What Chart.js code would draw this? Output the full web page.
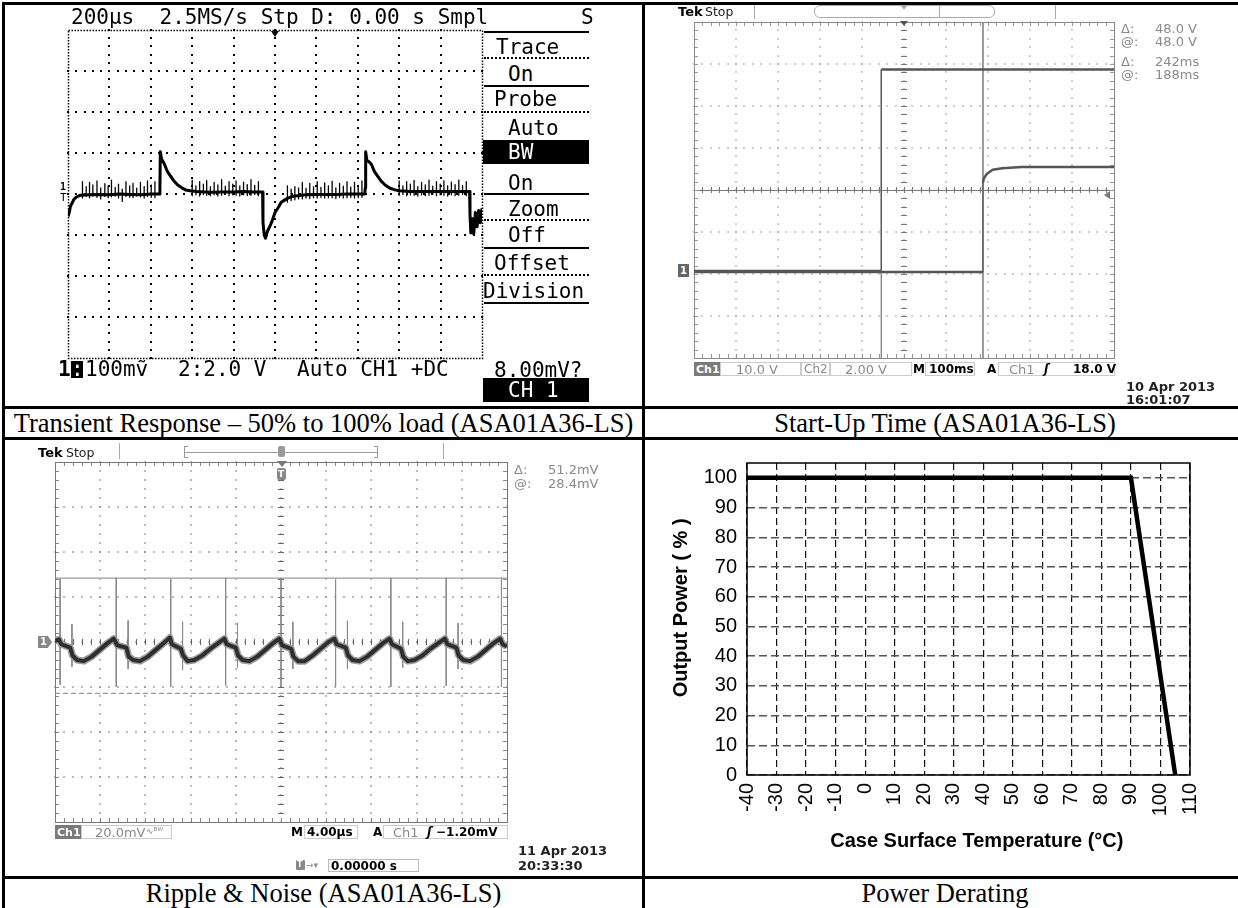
<!DOCTYPE html>
<html>
<head>
<meta charset="utf-8">
<title>ASA01A36-LS characteristics</title>
<script src="https://cdn.jsdelivr.net/npm/chart.js@4.4.1/dist/chart.umd.min.js"></script>
<style>
  html, body { margin: 0; background: #fff; }
  #page { position: relative; width: 1238px; height: 908px; overflow: hidden; background: #fff; }
  .ln { position: absolute; background: #000; }
  .cap { position: absolute; height: 28px; line-height: 28px; text-align: center; white-space: nowrap;
         font-family: "Liberation Serif", "Times New Roman", serif; font-size: 26.5px; color: #000; }
  .t { position: absolute; white-space: pre; line-height: 1; transform: translateY(-50%); }
  .mono { font-family: "DejaVu Sans Mono", monospace; font-size: 21px; color: #000; }
  .tek { font-family: "DejaVu Sans", sans-serif; font-size: 13px; color: #8a8a8a; }
  .tek.b { font-weight: bold; font-size: 12px; color: #000; }
  .tek.d { font-weight: bold; color: #222; }
  .r { position: absolute; box-sizing: border-box; }
  canvas { position: absolute; }
</style>
</head>
<body>
<div id="page">
  <!-- table rules -->
  <div class="ln" style="left:2px;top:2px;width:1236px;height:3px"></div>
  <div class="ln" style="left:2px;top:2px;width:3px;height:906px"></div>
  <div class="ln" style="left:642px;top:2px;width:3px;height:906px"></div>
  <div class="ln" style="left:2px;top:406px;width:1236px;height:3px"></div>
  <div class="ln" style="left:2px;top:437px;width:1236px;height:3px"></div>
  <div class="ln" style="left:2px;top:876px;width:1236px;height:3px"></div>

  <div class="cap" style="left:5px;width:637px;top:409px">Transient Response – 50% to 100% load (ASA01A36-LS)</div>
  <div class="cap" style="left:645px;width:600px;top:409px">Start-Up Time (ASA01A36-LS)</div>
  <div class="cap" style="left:5px;width:637px;top:879px;height:29px">Ripple &amp; Noise (ASA01A36-LS)</div>
  <div class="cap" style="left:645px;width:600px;top:879px;height:29px">Power Derating</div>

  <canvas id="cTrans" width="426" height="340" style="left:62px;top:24px"></canvas>
  <canvas id="cStart" width="432" height="348" style="left:688px;top:16px"></canvas>
  <canvas id="cRipple" width="464" height="372" style="left:49px;top:456px"></canvas>
  <canvas id="cDerate" width="595" height="436" style="left:643px;top:440px"></canvas>

  <!-- transient response screen -->
  <div class="t mono" style="left:71px;top:17px">200µs  2.5MS/s Stp D: 0.00 s Smpl</div>
  <div class="t mono" style="left:581px;top:17px">S</div>
  <div class="r" style="left:271px;top:31px;border-left:4px solid transparent;border-right:4px solid transparent;border-top:6px solid #000"></div>
  <div class="t mono" style="left:60px;top:187px;font-size:10px;font-weight:bold">1</div>
  <div class="t mono" style="left:60px;top:197px;font-size:11px">T</div>
  <div class="ln" style="left:484px;top:31px;width:105px;height:2px"></div>
  <div class="t mono" style="left:496px;top:47px">Trace</div>
  <div class="r" style="left:484px;top:57px;width:105px;border-top:2px dotted #000"></div>
  <div class="t mono" style="left:508px;top:74px">On</div>
  <div class="ln" style="left:484px;top:85px;width:105px;height:2px"></div>
  <div class="t mono" style="left:494px;top:99px">Probe</div>
  <div class="r" style="left:484px;top:111px;width:105px;border-top:2px dotted #000"></div>
  <div class="t mono" style="left:508px;top:128px">Auto</div>
  <div class="ln" style="left:483px;top:140px;width:106px;height:24px"></div>
  <div class="t mono" style="left:508px;top:152px;color:#fff">BW</div>
  <div class="t mono" style="left:508px;top:183px">On</div>
  <div class="ln" style="left:484px;top:193px;width:105px;height:2px"></div>
  <div class="t mono" style="left:508px;top:209px">Zoom</div>
  <div class="r" style="left:484px;top:219px;width:105px;border-top:2px dotted #000"></div>
  <div class="t mono" style="left:508px;top:235px">Off</div>
  <div class="ln" style="left:484px;top:247px;width:105px;height:2px"></div>
  <div class="t mono" style="left:494px;top:263px">Offset</div>
  <div class="r" style="left:484px;top:274px;width:105px;border-top:2px dotted #000"></div>
  <div class="t mono" style="left:483px;top:291px">Division</div>
  <div class="ln" style="left:484px;top:302px;width:105px;height:2px"></div>
  <div class="t mono" style="left:494px;top:370px">8.00mV?</div>
  <div class="ln" style="left:483px;top:378px;width:106px;height:24px"></div>
  <div class="t mono" style="left:508px;top:390px;color:#fff">CH 1</div>
  <div class="t mono" style="left:58px;top:369px;font-weight:bold">1</div>
  <div class="ln" style="left:71px;top:361px;width:12px;height:17px"></div>
  <div class="t mono" style="left:71px;top:369px;color:#fff">:</div>
  <div class="t mono" style="left:85px;top:369px">100mṽ</div>
  <div class="t mono" style="left:178px;top:369px">2:2.0 V</div>
  <div class="t mono" style="left:297px;top:369px">Auto CH1 +DC</div>

  <!-- start-up screen -->
  <div class="t tek" style="left:678px;top:11px;color:#000;font-weight:bold">Tek</div>
  <div class="t tek" style="left:705px;top:12px;color:#222;font-size:12.5px">Stop</div>
  <div class="r" style="left:754px;top:5px;width:1px;height:14px;background:#aaa"></div>
  <div class="r" style="left:814px;top:5px;width:181px;height:13px;border:1px solid #aaa;border-radius:6px"></div>
  <div class="r" style="left:939px;top:5px;width:1px;height:13px;background:#aaa"></div>
  <div class="r" style="left:1055px;top:5px;width:1px;height:14px;background:#aaa"></div>
  <div class="r" style="left:901px;top:6px;border-left:3px solid transparent;border-right:3px solid transparent;border-top:4px solid #aaa"></div>
  <div class="r" style="left:900px;top:21px;border-left:4px solid transparent;border-right:4px solid transparent;border-top:5px solid #555"></div>
  <div class="r" style="left:678px;top:264px;width:11px;height:13px;background:#666"></div>
  <div class="t tek" style="left:680px;top:271px;color:#fff;font-weight:bold;font-size:10px">1</div>
  <div class="r" style="left:1104px;top:191px;border-top:4px solid transparent;border-bottom:4px solid transparent;border-right:6px solid #777"></div>
  <div class="t tek" style="left:1121px;top:28px">Δ:</div>
  <div class="t tek" style="left:1155px;top:28px">48.0 V</div>
  <div class="t tek" style="left:1121px;top:41px">@:</div>
  <div class="t tek" style="left:1155px;top:41px">48.0 V</div>
  <div class="t tek" style="left:1121px;top:61px">Δ:</div>
  <div class="t tek" style="left:1155px;top:61px">242ms</div>
  <div class="t tek" style="left:1121px;top:74px">@:</div>
  <div class="t tek" style="left:1155px;top:74px">188ms</div>
  <div class="r" style="left:694px;top:362px;width:26px;height:14px;background:#7a7a7a"></div>
  <div class="t tek" style="left:696px;top:369px;color:#fff;font-weight:bold;font-size:11px">Ch1</div>
  <div class="r" style="left:720px;top:362px;width:81px;height:14px;border:1px solid #ccc"></div>
  <div class="t tek" style="left:736px;top:369px">10.0 V</div>
  <div class="r" style="left:801px;top:362px;width:29px;height:14px;border:1px solid #ccc"></div>
  <div class="t tek" style="left:804px;top:369px;font-size:12px">Ch2</div>
  <div class="r" style="left:830px;top:362px;width:82px;height:14px;border:1px solid #ccc"></div>
  <div class="t tek" style="left:845px;top:369px">2.00 V</div>
  <div class="t tek b" style="left:913px;top:369px">M</div>
  <div class="r" style="left:925px;top:362px;width:50px;height:14px;border:1px solid #ccc"></div>
  <div class="t tek b" style="left:929px;top:369px">100ms</div>
  <div class="t tek b" style="left:987px;top:369px">A</div>
  <div class="r" style="left:998px;top:362px;width:117px;height:14px;border:1px solid #ccc"></div>
  <div class="t tek" style="left:1009px;top:369px">Ch1</div>
  <div class="t tek b" style="left:1044px;top:369px;font-style:italic">ʃ</div>
  <div class="t tek b" style="left:1073px;top:369px">18.0 V</div>
  <div class="t tek d" style="left:1126px;top:386px">10 Apr 2013</div>
  <div class="t tek d" style="left:1126px;top:399px">16:01:07</div>

  <!-- ripple screen -->
  <div class="t tek" style="left:38px;top:452px;color:#000;font-weight:bold">Tek</div>
  <div class="t tek" style="left:66px;top:453px;color:#222;font-size:12.5px">Stop</div>
  <div class="r" style="left:119px;top:443px;width:1px;height:16px;background:#aaa"></div>
  <div class="r" style="left:443px;top:443px;width:1px;height:16px;background:#aaa"></div>
  <div class="r" style="left:184px;top:446px;width:4px;height:12px;border:1px solid #999;border-right:none"></div>
  <div class="r" style="left:374px;top:446px;width:4px;height:12px;border:1px solid #999;border-left:none"></div>
  <div class="r" style="left:185px;top:452px;width:192px;height:1px;background:#999"></div>
  <div class="r" style="left:278px;top:446px;width:7px;height:11px;background:#999;border-radius:2px"></div>
  <div class="r" style="left:277px;top:461px;border-left:5px solid transparent;border-right:5px solid transparent;border-top:6px solid #777"></div>
  <div class="r" style="left:277px;top:468px;width:9px;height:12px;background:#888;border-radius:2px"></div>
  <div class="t tek" style="left:278px;top:474px;color:#fff;font-weight:bold;font-size:9px">T</div>
  <div class="r" style="left:38px;top:636px;width:14px;height:12px;background:#888;clip-path:polygon(0 0,70% 0,100% 50%,70% 100%,0 100%)"></div>
  <div class="t tek" style="left:40px;top:642px;color:#fff;font-weight:bold;font-size:10px">1</div>
  <div class="t tek" style="left:514px;top:469px">Δ:</div>
  <div class="t tek" style="left:548px;top:469px">51.2mV</div>
  <div class="t tek" style="left:514px;top:483px">@:</div>
  <div class="t tek" style="left:548px;top:483px">28.4mV</div>
  <div class="r" style="left:55px;top:825px;width:26px;height:14px;background:#7a7a7a"></div>
  <div class="t tek" style="left:57px;top:832px;color:#fff;font-weight:bold;font-size:11px">Ch1</div>
  <div class="r" style="left:81px;top:825px;width:91px;height:14px;border:1px solid #ccc"></div>
  <div class="t tek" style="left:95px;top:832px">20.0mV</div>
  <div class="t tek" style="left:146px;top:831px;font-size:9px">∿ᴮᵂ</div>
  <div class="t tek b" style="left:291px;top:832px">M</div>
  <div class="r" style="left:304px;top:825px;width:54px;height:14px;border:1px solid #ccc"></div>
  <div class="t tek b" style="left:307px;top:832px">4.00µs</div>
  <div class="t tek b" style="left:373px;top:832px">A</div>
  <div class="r" style="left:383px;top:825px;width:125px;height:14px;border:1px solid #ccc"></div>
  <div class="t tek" style="left:393px;top:832px">Ch1</div>
  <div class="t tek b" style="left:427px;top:832px;font-style:italic">ʃ</div>
  <div class="t tek b" style="left:436px;top:832px">−1.20mV</div>
  <div class="t tek d" style="left:518px;top:850px">11 Apr 2013</div>
  <div class="t tek d" style="left:518px;top:865px">20:33:30</div>
  <div class="r" style="left:296px;top:860px;width:9px;height:10px;background:#888;border-radius:1px"></div>
  <div class="t tek" style="left:297px;top:865px;color:#fff;font-size:8px;font-weight:bold">T</div>
  <div class="t tek" style="left:306px;top:865px;font-size:9px">→▾</div>
  <div class="r" style="left:328px;top:859px;width:91px;height:13px;border:1px solid #bbb"></div>
  <div class="t tek b" style="left:331px;top:866px">0.00000 s</div>
</div>

<script>
// Transient response: time in µs (200 µs/div), output deviation in mV (100 mV/div)
const transientTrace = [
  [-1000, -55], [-994, -45], [-988, -30], [-980, -22], [-970, -12], [-960, -8], [-950, -5], [-940, -3],
  [-900, -2], [-850, -1], [-800, -2], [-750, 0], [-700, -1], [-650, -2], [-600, 0], [-560, 0],
  [-556, 10], [-554, 103], [-548, 85], [-536, 75], [-520, 55], [-508, 46], [-490, 33], [-470, 22], [-450, 15],
  [-432, 10], [-410, 8], [-380, 6], [-340, 5], [-300, 4], [-250, 5], [-200, 5], [-150, 6], [-100, 5], [-60, 5],
  [-58, -70], [-52, -100], [-46, -108], [-36, -90], [-24, -78], [-12, -63], [0, -45], [18, -31], [30, -20],
  [46, -15], [62, -10], [84, -6], [110, -4], [150, -2], [200, -1], [250, -1], [300, -1], [350, 0], [400, 0], [434, 0],
  [436, 15], [438, 103], [444, 82], [456, 78], [466, 72], [480, 55], [494, 45], [512, 32], [532, 22], [556, 14],
  [580, 10], [600, 8], [650, 6], [700, 6], [750, 6], [800, 6], [850, 6], [900, 6], [940, 6],
  [942, -50], [946, -95], [952, -60], [960, -98], [968, -45], [976, -80], [984, -40], [992, -70], [1000, -35]
];
// switching noise riding on the transient trace
const noiseUs = [
  -930, -912, -896, -880, -860, -842, -822, -806, -790, -772, -756, -738, -720, -702, -686, -668, -650, -632, -616, -598, -580,
  -400, -382, -364, -346, -330, -312, -294, -276, -258, -240, -222, -204, -188, -170, -152, -134, -116, -98, -80,
  60, 78, 96, 114, 132, 150, 168, 186, 204, 222, 240, 258, 276, 294, 312, 330, 348, 366, 384, 402, 420,
  600, 618, 636, 654, 672, 690, 708, 726, 744, 762, 780, 798, 816, 834, 852, 870, 888, 906, 924
];
const noiseHighMv = [
  30, 18, 28, 22, 32, 15, 25, 20, 34, 16, 24, 12, 30, 20, 26, 14, 28, 18, 32, 22, 30,
  34, 20, 30, 24, 33, 18, 28, 22, 35, 19, 30, 24, 32, 20, 29, 23, 35, 21, 30,
  20, 12, 18, 15, 28, 14, 26, 18, 30, 16, 27, 20, 31, 15, 26, 19, 30, 17, 28, 21, 32,
  32, 20, 30, 24, 33, 18, 28, 22, 34, 19, 30, 24, 32, 20, 29, 23, 34, 21, 30
];
const noiseLowMv = [
  -10, -6, -9, -5, -8, -12, -6, -9, -7, -5, -10, -18, -6, -8, -9, -5, -7, -10, -6, -8, -9,
  -4, -2, -5, -1, -3, -4, -2, -5, -3, -1, -4, -2, -3, -5, -2, -4, -3, -1, -4,
  -20, -16, -14, -12, -12, -10, -11, -9, -10, -8, -10, -9, -9, -11, -8, -10, -9, -8, -10, -9, -8,
  -3, -1, -4, -2, -3, -5, -2, -4, -3, -1, -4, -2, -3, -5, -2, -4, -3, -1, -4
];

// Start-up: time in ms (100 ms/div), Ch1 input in V (10 V/div), Ch2 output in V (2 V/div)
const ch1Ms = [-500, -54, -54, 500];
const ch1V = [0, 0, 48, 48];
const ch2Ms = [-500, 188, 188, 190, 197, 211, 234, 280, 500];
const ch2V = [0, 0, 4.24, 4.45, 4.66, 4.86, 4.94, 5.0, 5.0];
const cursorMs = [-54, 188];
const cursorTopDiv = [2.87, 4];
const cursorBottomDiv = [-4, -4];

// Ripple & noise: time in µs (4 µs/div), ripple in mV (20 mV/div)
const rippleTrace = [
  [-20.0, 0.5], [-19.65, 1.2],
  [-19.45, -1], [-18.65, -2.5], [-18.45, -6], [-18.05, -8], [-17.45, -8.5], [-16.75, -6.5], [-16.05, -3.5], [-15.35, -0.5], [-14.80, 1.5],
  [-14.48, -1.5], [-13.68, -2.5], [-13.48, -6.5], [-13.08, -8], [-12.48, -8.5], [-11.78, -6.5], [-11.08, -3.5], [-10.38, -0.5], [-9.83, 2],
  [-9.66, -1], [-8.86, -3], [-8.66, -6], [-8.26, -8.5], [-7.66, -8], [-6.96, -6], [-6.26, -3], [-5.56, -0.5], [-5.01, 1.5],
  [-4.80, -1], [-4.00, -2.5], [-3.80, -6], [-3.40, -8], [-2.80, -8.5], [-2.10, -6.5], [-1.40, -3.5], [-0.70, -0.5], [-0.15, 1.5],
  [0.10, -1.5], [0.90, -3], [1.10, -6.5], [1.50, -8.5], [2.10, -8.5], [2.80, -6], [3.50, -3], [4.20, 0], [4.72, 1.5],
  [4.93, -1], [5.73, -2.5], [5.93, -6], [6.33, -8], [6.93, -8.5], [7.63, -6.5], [8.33, -3.5], [9.03, -0.5], [9.61, 1.5],
  [9.82, -1], [10.62, -3], [10.82, -6.5], [11.22, -8.5], [11.82, -8], [12.52, -6], [13.22, -3], [13.92, -0.5], [14.51, 1.5],
  [14.72, -1], [15.52, -2.5], [15.72, -6], [16.12, -8], [16.72, -8.5], [17.42, -6.5], [18.12, -3.5], [18.82, -0.5], [19.40, 1.5],
  [19.61, -1], [20.0, -2]
];
const spikeUs = [-19.55, -14.58, -9.76, -4.90, 0.00, 4.83, 9.72, 14.62, 19.51];
const spikeHighMv = [28, 28.5, 28, 28.5, 28.5, 28, 28.5, 28.5, 28.5];
const spikeLowMv = [-19, -20, -20, -19.5, -20, -20, -20, -19.5, -20];
const subSpikeUs = [-18.50, -13.53, -8.71, -3.85, 1.05, 5.88, 10.77, 15.67];
const subSpikeHighMv = [8, 9.5, 9, 8.5, 9, 9.5, 9, 8.5];
const subSpikeLowMv = [-11, -12, -12.5, -11.5, -12, -12, -11.5, -12];
const cursorMv = [28.4, -22.8];

// Power derating
const tempC = [-40, 90, 105];
const powerPct = [100, 100, 0];
const tempTicks = [-40, -30, -20, -10, 0, 10, 20, 30, 40, 50, 60, 70, 80, 90, 100, 110];
const powerTicks = [0, 10, 20, 30, 40, 50, 60, 70, 80, 90, 100];

Chart.defaults.font.family = '"Liberation Sans", Arial, sans-serif';

const pts = list => list.map(([x, y]) => ({ x, y }));
const zip = (xs, ys) => xs.map((x, i) => ({ x, y: ys[i] }));
const bars = (xs, hi, lo) => xs.flatMap((x, i) => [{ x, y: hi[i] }, { x, y: lo[i] }, { x, y: null }]);

// scope graticule: dots every 1/5 division, frame and tick marks
const scopeGrid = {
  id: 'scopeGrid',
  beforeDatasetsDraw(chart, args, o) {
    const ctx = chart.ctx;
    const xs = chart.scales.x;
    const ys = chart.scales[o.yAxis];
    const px = d => Math.round(xs.getPixelForValue(xs.min + (xs.max - xs.min) * d / o.xDivs));
    const py = d => Math.round(ys.getPixelForValue(ys.min + (ys.max - ys.min) * d / o.yDivs));
    const L = px(0), R = px(o.xDivs), B = py(0), T = py(o.yDivs);
    const cx = px(o.xDivs / 2), cy = py(o.yDivs / 2);
    const s = o.dotSize;
    const seg = (x1, y1, x2, y2) => { ctx.moveTo(x1, y1); ctx.lineTo(x2, y2); };
    ctx.save();
    ctx.fillStyle = o.dotColor;
    for (let i = 1; i < o.xDivs; i++) {
      for (let k = 0; k <= o.yDivs * 5; k++) ctx.fillRect(px(i) - s / 2, py(k / 5) - s / 2, s, s);
    }
    for (let j = 1; j < o.yDivs; j++) {
      for (let k = 0; k <= o.xDivs * 5; k++) ctx.fillRect(px(k / 5) - s / 2, py(j) - s / 2, s, s);
    }
    ctx.lineWidth = 1;
    if (o.centerTicks) {
      const c = o.centerTicks;
      ctx.strokeStyle = o.centerColor;
      ctx.beginPath();
      for (let k = 1; k < o.xDivs * 5; k++) seg(px(k / 5) + 0.5, cy - c, px(k / 5) + 0.5, cy + c);
      for (let k = 1; k < o.yDivs * 5; k++) seg(cx - c, py(k / 5) + 0.5, cx + c, py(k / 5) + 0.5);
      if (o.solidCenterY) seg(L, cy + 0.5, R, cy + 0.5);
      ctx.stroke();
    }
    if (o.edgeTicks) {
      const e = o.edgeTicks;
      ctx.strokeStyle = o.tickColor;
      ctx.beginPath();
      for (let k = 1; k < o.xDivs * 5; k++) {
        const x = px(k / 5) + 0.5;
        seg(x, T, x, T + e);
        seg(x, B - e, x, B);
      }
      for (let k = 1; k < o.yDivs * 5; k++) {
        const y = py(k / 5) + 0.5;
        seg(L, y, L + e, y);
        seg(R - e, y, R, y);
      }
      ctx.stroke();
    }
    ctx.strokeStyle = o.frameColor;
    ctx.lineWidth = o.frame === 'dotted' ? 1.5 : 1;
    ctx.setLineDash(o.frame === 'dotted' ? [1.5, 1.5] : []);
    ctx.strokeRect(L + 0.5, T + 0.5, R - L, B - T);
    ctx.restore();
  }
};

function scope(id, datasets, scales, grid) {
  return new Chart(document.getElementById(id), {
    type: 'line',
    data: { datasets },
    options: {
      responsive: false,
      animation: false,
      events: [],
      layout: { padding: 6 },
      elements: { point: { radius: 0 }, line: { tension: 0, borderJoinStyle: 'round' } },
      plugins: { legend: { display: false }, tooltip: { enabled: false }, scopeGrid: grid },
      scales
    },
    plugins: [scopeGrid]
  });
}

const tekGrid = { xDivs: 10, yDivs: 8, dotSize: 1.5, frame: 'solid', edgeTicks: 4, centerTicks: 3 };
const thinEdges = { borderWidth: c => (c.p0.parsed.x === c.p1.parsed.x ? 1.2 : undefined) };

scope('cTrans', [
  { data: pts(transientTrace), borderColor: '#000', borderWidth: 3 },
  { data: bars(noiseUs, noiseHighMv, noiseLowMv), borderColor: '#000', borderWidth: 1.3 }
], {
  x: { type: 'linear', display: false, min: -1000, max: 1000 },
  y: { display: false, min: -400, max: 400 }
}, { yAxis: 'y', xDivs: 10, yDivs: 8, dotColor: '#000', dotSize: 2, frame: 'dotted', frameColor: '#000' });

scope('cStart', [
  { data: zip(ch2Ms, ch2V), yAxisID: 'y2', borderColor: '#555', borderWidth: 2.5, segment: thinEdges },
  { data: zip(ch1Ms, ch1V), yAxisID: 'y1', borderColor: '#555', borderWidth: 2.5, segment: thinEdges },
  { data: bars(cursorMs, cursorTopDiv, cursorBottomDiv), yAxisID: 'yd', borderColor: '#8c8c8c', borderWidth: 1 }
], {
  x: { type: 'linear', display: false, min: -500, max: 500 },
  y1: { display: false, min: -20.7, max: 59.3 },
  y2: { display: false, min: -4.1, max: 11.9 },
  yd: { display: false, min: -4, max: 4 }
}, Object.assign({ yAxis: 'yd', dotColor: '#a8a8a8', frameColor: '#8a8a8a', tickColor: '#999',
  centerColor: '#777', solidCenterY: true }, tekGrid));

scope('cRipple', [
  { data: pts(rippleTrace), borderColor: '#2e2e2e', borderWidth: 4 },
  { data: pts(rippleTrace), borderColor: '#9c9c9c', borderWidth: 7 },
  { data: bars(spikeUs, spikeHighMv, spikeLowMv).concat(bars(subSpikeUs, subSpikeHighMv, subSpikeLowMv)),
    borderColor: '#8a8a8a', borderWidth: 1 },
  { data: [{ x: -20, y: cursorMv[0] }, { x: 20, y: cursorMv[0] }], borderColor: '#9a9a9a', borderWidth: 1.2 },
  { data: [{ x: -20, y: cursorMv[1] }, { x: 20, y: cursorMv[1] }], borderColor: '#9a9a9a', borderWidth: 1.2,
    borderDash: [5, 3] }
], {
  x: { type: 'linear', display: false, min: -20, max: 20 },
  y: { display: false, min: -80, max: 80 }
}, Object.assign({ yAxis: 'y', dotColor: '#888', frameColor: '#777', tickColor: '#888',
  centerColor: '#666' }, tekGrid));

// solid frame round the derating plot
const plotFrame = {
  id: 'plotFrame',
  beforeDatasetsDraw(chart) {
    const { ctx, chartArea: a } = chart;
    ctx.save();
    ctx.strokeStyle = '#000';
    ctx.lineWidth = 1.5;
    ctx.strokeRect(a.left, a.top, a.right - a.left, a.bottom - a.top);
    ctx.restore();
  }
};

const tickFont = { family: '"Liberation Sans", Arial, sans-serif', size: 20 };
const titleFont = { family: '"Liberation Sans", Arial, sans-serif', size: 20, weight: 'bold' };

new Chart(document.getElementById('cDerate'), {
  type: 'line',
  data: {
    datasets: [{ data: zip(tempC, powerPct), borderColor: '#000', borderWidth: 4.5, pointRadius: 0,
      tension: 0, borderJoinStyle: 'miter' }]
  },
  options: {
    responsive: false,
    animation: false,
    events: [],
    layout: { padding: { left: 22, top: 23, right: 48, bottom: 19 } },
    plugins: { legend: { display: false }, tooltip: { enabled: false } },
    scales: {
      x: {
        type: 'linear', min: -40, max: 110,
        afterBuildTicks: s => { s.ticks = tempTicks.map(v => ({ value: v })); },
        afterFit: s => { s.height = 82; },
        ticks: { autoSkip: false, maxRotation: 90, minRotation: 90, padding: 8, color: '#000', font: tickFont },
        grid: { color: '#111', lineWidth: 1.2, drawTicks: false },
        border: { display: false, dash: [7, 4] },
        title: { display: true, text: '\u00a0\u00a0\u00a0Case Surface Temperature (°C)', color: '#000', font: titleFont }
      },
      y: {
        min: 0, max: 105,
        afterBuildTicks: s => { s.ticks = powerTicks.map(v => ({ value: v })); },
        afterFit: s => { s.width = 82; },
        ticks: { padding: 10, color: '#000', font: tickFont },
        grid: { color: '#555', lineWidth: 1.4, drawTicks: false },
        border: { display: false, dash: [8, 4] },
        title: { display: true, text: '\u00a0\u00a0\u00a0\u00a0Output Power ( % )', color: '#000', font: titleFont }
      }
    }
  },
  plugins: [plotFrame]
});
</script>
</body>
</html>
